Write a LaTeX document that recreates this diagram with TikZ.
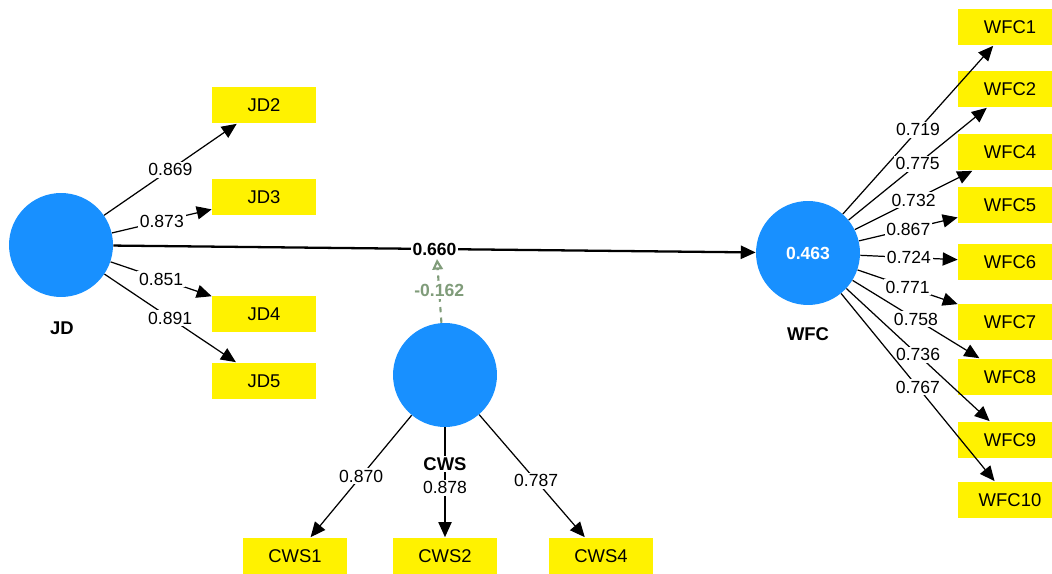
\documentclass[tikz,border=0pt]{standalone}
\usepackage{fontspec}
\setmainfont{Liberation Sans}
\usetikzlibrary{arrows.meta}
\definecolor{lvblue}{RGB}{24,144,255}
\definecolor{modgreen}{RGB}{128,156,122}
\tikzset{
    >={Triangle[length=8.5pt,width=7.5pt]},
    latent/.style={circle, fill=lvblue, minimum size=2.08cm, inner sep=0pt},
    indicator/.style={rectangle, fill=yellow, minimum width=2.08cm, minimum height=0.74cm,
        inner sep=0pt, font=\fontsize{10.5}{12}\selectfont},
    loading/.style={->, line width=0.7pt},
    coef/.style={fill=white, inner sep=1pt, font=\fontsize{10}{12}\selectfont},
    lvname/.style={font=\fontsize{10.5}{12}\selectfont\bfseries}
}

\begin{document}
\begin{tikzpicture}[x=0.02cm, y=-0.02cm]
        \clip (0,0) rectangle (1052,574);

        % latent variables
        \draw (61,245) node[latent](jd){};
        \draw (808,253) node[latent](wfc){\textcolor{white}{\bfseries\fontsize{10}{12}\selectfont 0.463}};
        \draw (445,375) node[latent](cws){};
        \draw (62,328) node[lvname](jdname){JD};
        \draw (808,334) node[lvname](wfcname){WFC};

        % indicators
        \draw (264,105) node[indicator](jd2){JD2};
        \draw (264,197) node[indicator](jd3){JD3};
        \draw (264,314) node[indicator](jd4){JD4};
        \draw (264,381) node[indicator](jd5){JD5};

        \draw (1010,27) node[indicator](wfc1){WFC1};
        \draw (1010,89) node[indicator](wfc2){WFC2};
        \draw (1010,152) node[indicator](wfc4){WFC4};
        \draw (1010,205) node[indicator](wfc5){WFC5};
        \draw (1010,262) node[indicator](wfc6){WFC6};
        \draw (1010,322) node[indicator](wfc7){WFC7};
        \draw (1010,377) node[indicator](wfc8){WFC8};
        \draw (1010,440) node[indicator](wfc9){WFC9};
        \draw (1010,500) node[indicator](wfc10){WFC10};

        \draw (295,556) node[indicator](cws1){CWS1};
        \draw (445,556) node[indicator](cws2){CWS2};
        \draw (601,556) node[indicator](cws4){CWS4};

        % outer loadings
        \draw[loading] (jd) to node[coef]{0.869} (jd2);
        \draw[loading] (jd) to node[coef]{0.873} (jd3);
        \draw[loading] (jd) to node[coef]{0.851} (jd4);
        \draw[loading] (jd) to node[coef]{0.891} (jd5);

        \draw[loading] (wfc) to node[coef]{0.719} (wfc1);
        \draw[loading] (wfc) to node[coef]{0.775} (wfc2);
        \draw[loading] (wfc) to node[coef]{0.732} (wfc4);
        \draw[loading] (wfc) to node[coef]{0.867} (wfc5);
        \draw[loading] (wfc) to node[coef]{0.724} (wfc6);
        \draw[loading] (wfc) to node[coef]{0.771} (wfc7);
        \draw[loading] (wfc) to node[coef]{0.758} (wfc8);
        \draw[loading] (wfc) to node[coef]{0.736} (wfc9);
        \draw[loading] (wfc) to node[coef]{0.767} (wfc10);

        \draw[loading] (cws) to node[coef]{0.870} (cws1);
        \draw[loading] (cws) to node[coef, pos=0.55]{0.878} (cws2);
        \draw[loading] (cws) to node[coef, pos=0.54]{0.787} (cws4);
        \draw (445,464) node[lvname, fill=white, inner sep=1pt](cwsname){CWS};

        % structural path and moderating effect
        \draw[->, line width=1.3pt] (jd) to node[coef, font=\fontsize{10}{12}\selectfont\bfseries]{0.660} (wfc);
        \coordinate (modend) at (437,259);
        \draw[dashed, modgreen, line width=1.2pt, -{Triangle[open, length=6pt, width=6pt]}] (cws) to
            node[coef, text=modgreen, font=\fontsize{10}{12}\selectfont\bfseries]{-0.162} (modend);
    \end{tikzpicture}
\end{document}
